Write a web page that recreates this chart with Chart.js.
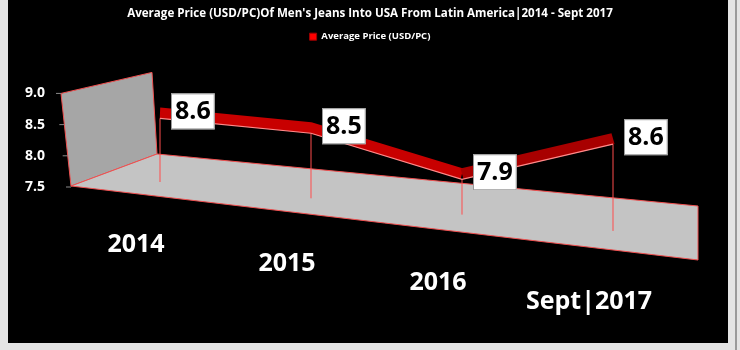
<!DOCTYPE html>
<html><head><meta charset="utf-8">
<script src="https://cdn.jsdelivr.net/npm/chart.js@4.4.1/dist/chart.umd.min.js"></script>
<style>html,body{margin:0;padding:0;background:#e4e4e4;}canvas{display:block;}</style>
</head><body>
<canvas id="c" width="740" height="350"></canvas>
<script>
/* Average price of men's jeans, pseudo 3D line */
const categories=['2014','2015','2016','Sept|2017'];
const avgPrice=[8.6,8.5,7.9,8.6];
const yMin=7.5, yMax=9.0, yStep=0.5;
const seriesName='Average Price (USD/PC)';
const titleText="Average Price (USD/PC)Of Men's Jeans Into USA From Latin America|2014 - Sept 2017";

const SKEW=0.057;   // slant of the series line (fake perspective)
const FLOOR=0.108;  // slant of the floor middle
const FONT='"Open Sans", sans-serif';

function poly(c,pts,fill,stroke){c.beginPath();pts.forEach((p,i)=>i?c.lineTo(p[0],p[1]):c.moveTo(p[0],p[1]));c.closePath();
  c.fillStyle=fill;c.fill();c.strokeStyle=stroke;c.lineWidth=1;c.stroke();}

const frame={id:'frame',beforeDraw(chart){const c=chart.ctx;c.save();
  c.fillStyle='#e4e4e4';c.fillRect(0,0,chart.width,chart.height);
  c.fillStyle='#000';c.fillRect(8,0,720,343);
  c.fillStyle='#9a9a9a';c.fillRect(735,0,2,350);c.restore();}};

const fake3d={id:'fake3d',
  beforeDatasetsDraw(chart){
    const c=chart.ctx,a=chart.chartArea,L=a.left,R=a.right,T=a.top,B=a.bottom,ys=chart.scales.y;
    c.save();
    // side wall + floor
    poly(c,[[L-99,T],[L-8,T-21],[L-3,B-33],[L-89,B-1]],'#a6a6a6','#f05050');
    poly(c,[[L-3,B-33],[L-89,B-1],[R+85,B+73],[R+85,B+19]],'#c4c4c4','#f05050');
    // small tick marks on the wall edge
    c.strokeStyle='#8a8a8a';c.lineWidth=1;
    ys.ticks.forEach(t=>{const y=ys.getPixelForValue(t.value);const x=L-99+(y-T)*10/(B-T);
      c.beginPath();c.moveTo(x-5,y);c.lineTo(x,y);c.stroke();});
    // drop lines
    const meta=chart.getDatasetMeta(0);
    c.strokeStyle='#ff4d4d';
    meta.data.forEach(p=>{const y=p.y+SKEW*(p.x-L);c.beginPath();c.moveTo(p.x,y);c.lineTo(p.x,B-5+FLOOR*(p.x-L));c.stroke();});
    c.restore();
    c.save();
    c.transform(1,SKEW,0,1,0,-SKEW*L);
    c.translate(0,-5.5);
  },
  afterDatasetsDraw(chart){
    const c=chart.ctx,a=chart.chartArea,L=a.left,B=a.bottom;
    c.restore();
    const meta=chart.getDatasetMeta(0);
    const pts=meta.data.map(p=>[p.x,p.y+SKEW*(p.x-L)]);
    c.save();
    c.strokeStyle='#ff8a8a';c.lineWidth=1.2;c.beginPath();
    pts.forEach((p,i)=>i?c.lineTo(p[0],p[1]):c.moveTo(p[0],p[1]));c.stroke();
    // value boxes
    c.font='bold 25px '+FONT;c.textBaseline='middle';c.textAlign='left';
    pts.forEach((p,i)=>{const s=avgPrice[i].toFixed(1);const w=c.measureText(s).width+8,h=36;
      const x=p[0]+11,y=p[1]-7-h/2;
      c.fillStyle='#fff';c.fillRect(x,y,w,h);c.strokeStyle='#9a9a9a';c.lineWidth=1;c.strokeRect(x+0.5,y+0.5,w-1,h-1);
      c.fillStyle='#000';c.fillText(s,x+4,y+h/2+1);});
    // staggered category labels
    const xs=chart.scales.x;
    c.fillStyle='#fff';c.textAlign='center';
    categories.forEach((lab,i)=>{const px=xs.getPixelForValue(i);
      c.fillText(lab,px-24,B+58+0.125*(px-L));});
    c.restore();
  }};

new Chart(document.getElementById('c'),{
  type:'line',
  data:{labels:categories,datasets:[{label:seriesName,data:avgPrice,
    borderColor:'#c80000',backgroundColor:'#ff0000',borderWidth:11,pointRadius:0,
    borderJoinStyle:'bevel',borderCapStyle:'butt',fill:false,clip:false,tension:0,
    segment:{borderColor:ctx=>ctx.p0DataIndex===2?'#a80000':undefined}}]},
  options:{responsive:false,animation:false,
    layout:{padding:{left:0,right:0,top:0,bottom:163}},
    scales:{
      x:{display:false,offset:false},
      y:{min:yMin,max:yMax,
        ticks:{stepSize:yStep,color:'#fff',padding:115,font:{family:FONT,size:14,weight:'bold'},callback:v=>Number(v).toFixed(1)},
        grid:{display:false,drawTicks:false},border:{display:false},
        afterFit(s){s.width=160;s.paddingTop=8;s.paddingBottom=8;}},
      // empty axis on the right only keeps room for the floor
      yR:{position:'right',display:true,ticks:{display:false},grid:{display:false},border:{display:false},
        afterFit(s){s.width=127;}}},
    plugins:{
      title:{display:true,text:titleText,color:'#fff',font:{family:FONT,size:11.6,weight:'bold'},padding:{top:7,bottom:4}},
      legend:{labels:{color:'#fff',boxWidth:7,boxHeight:7,padding:7,font:{family:FONT,size:9.5,weight:'bold'},
        generateLabels(chart){const items=Chart.defaults.plugins.legend.labels.generateLabels(chart);
          items.forEach(it=>{it.lineWidth=1;it.fillStyle='#ff0000';it.strokeStyle='#a00000';});return items;}}},
      subtitle:{display:true,text:' ',weight:500,font:{size:10},padding:{top:30,bottom:0}},
      tooltip:{enabled:false}}},
  plugins:[frame,fake3d]});
</script>
</body></html>
